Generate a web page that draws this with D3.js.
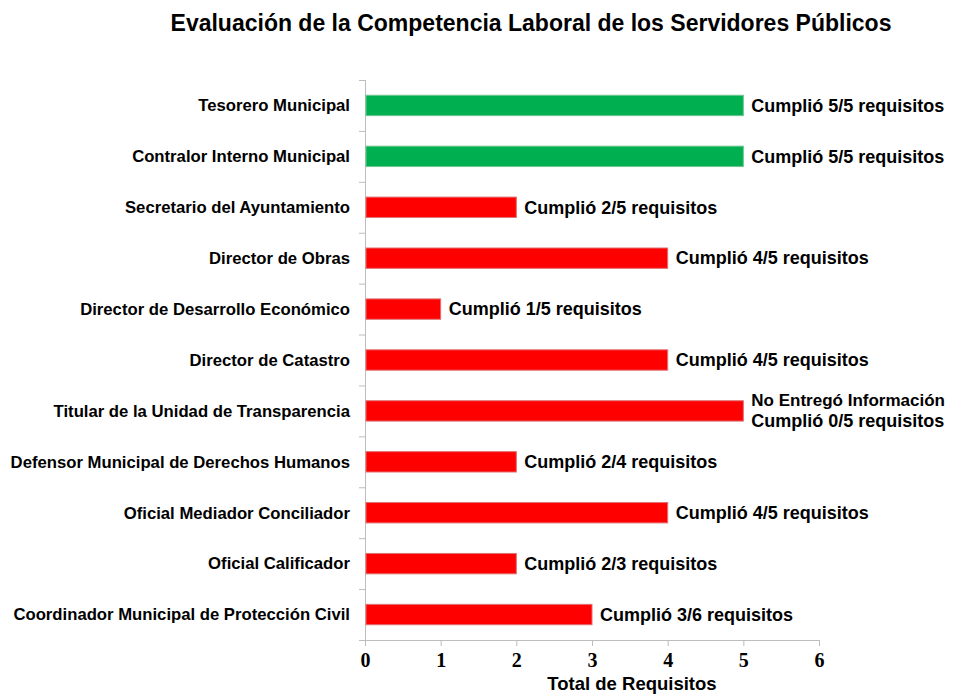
<!DOCTYPE html>
<html>
<head>
<meta charset="utf-8">
<script src="https://cdn.jsdelivr.net/npm/d3@7"></script>
<style>
  body { margin: 0; background: #fff; }
  text { font-family: "Liberation Sans", Arial, sans-serif; font-weight: bold; fill: #000; }
  .xaxis text { font-family: "Liberation Serif", "Times New Roman", serif; font-size: 20px; }
</style>
</head>
<body>
<div id="chart"></div>
<script>
// puestos evaluados, de arriba hacia abajo
var puestos = [
  "Tesorero Municipal",
  "Contralor Interno Municipal",
  "Secretario del Ayuntamiento",
  "Director de Obras",
  "Director de Desarrollo Económico",
  "Director de Catastro",
  "Titular de la Unidad de Transparencia",
  "Defensor Municipal de Derechos Humanos",
  "Oficial Mediador Conciliador",
  "Oficial Calificador ",
  "Coordinador Municipal de Protección Civil"
];
var requisitos = [5, 5, 2, 4, 1, 4, 5, 2, 4, 2, 3];
var cumplio = [true, true, false, false, false, false, false, false, false, false, false];
var etiquetas = [
  ["Cumplió 5/5 requisitos"],
  ["Cumplió 5/5 requisitos"],
  ["Cumplió 2/5 requisitos"],
  ["Cumplió 4/5 requisitos"],
  ["Cumplió 1/5 requisitos"],
  ["Cumplió 4/5 requisitos"],
  ["No Entregó Información", "Cumplió 0/5 requisitos"],
  ["Cumplió 2/4 requisitos"],
  ["Cumplió 4/5 requisitos"],
  ["Cumplió 2/3 requisitos"],
  ["Cumplió 3/6 requisitos"]
];
var xTicks = [0, 1, 2, 3, 4, 5, 6];

var w = 959, h = 696;
var margin = {top: 80, right: 140, bottom: 56, left: 365};

var svg = d3.select("#chart").append("svg")
  .attr("width", w)
  .attr("height", h);

var x = d3.scaleLinear()
  .domain([0, 6])
  .range([margin.left, w - margin.right]);

var y = d3.scaleBand()
  .domain(d3.range(puestos.length))
  .range([margin.top, h - margin.bottom])
  .paddingInner(0.6)
  .paddingOuter(0.3);

// title
svg.append("text")
  .attr("x", 531)
  .attr("y", 31)
  .attr("text-anchor", "middle")
  .style("font-size", "23px")
  .text("Evaluación de la Competencia Laboral de los Servidores Públicos");

// y axis line + tick marks between categories
var bandStep = (h - margin.bottom - margin.top) / puestos.length;
svg.append("line")
  .attr("x1", x(0) + 0.5).attr("x2", x(0) + 0.5)
  .attr("y1", margin.top).attr("y2", h - margin.bottom)
  .attr("stroke", "#bdbdbd");
svg.selectAll("line.ytick")
  .data(d3.range(puestos.length + 1))
  .enter().append("line")
  .attr("class", "ytick")
  .attr("x1", x(0) - 6).attr("x2", x(0))
  .attr("y1", function (i) { return margin.top + i * bandStep + 0.5; })
  .attr("y2", function (i) { return margin.top + i * bandStep + 0.5; })
  .attr("stroke", "#bdbdbd");

// x axis
var xAxis = svg.append("g")
  .attr("class", "xaxis")
  .attr("transform", "translate(0," + (h - margin.bottom) + ")")
  .call(d3.axisBottom(x).tickValues(xTicks).tickFormat(d3.format("d")).tickSize(6).tickPadding(7));
xAxis.selectAll("line").attr("stroke", "#bdbdbd");
xAxis.select(".domain").attr("stroke", "#bdbdbd");

svg.append("text")
  .attr("x", 632)
  .attr("y", h - 6)
  .attr("text-anchor", "middle")
  .style("font-size", "18.5px")
  .text("Total de Requisitos");

// category labels
svg.selectAll("text.cat")
  .data(puestos)
  .enter().append("text")
  .attr("class", "cat")
  .attr("x", x(0) - 15)
  .attr("y", function (d, i) { return y(i) + y.bandwidth() / 2; })
  .attr("dy", "0.35em")
  .attr("text-anchor", "end")
  .style("font-size", "16.7px")
  .text(function (d) { return d; });

// bars
svg.selectAll("rect.bar")
  .data(requisitos)
  .enter().append("rect")
  .attr("class", "bar")
  .attr("x", x(0) + 1)
  .attr("y", function (d, i) { return y(i); })
  .attr("width", function (d) { return x(d) - x(0) - 1; })
  .attr("height", y.bandwidth())
  .attr("fill", function (d, i) { return cumplio[i] ? "#00b050" : "#ff0000"; })
  .attr("stroke", function (d, i) { return cumplio[i] ? "#6cc58f" : "#e07070"; })
  .attr("stroke-width", 1);

// value labels
var lbl = svg.selectAll("text.val")
  .data(etiquetas)
  .enter().append("text")
  .attr("class", "val")
  .attr("x", function (d, i) { return x(requisitos[i]) + 8; })
  .attr("y", function (d, i) {
    var cy = y(i) + y.bandwidth() / 2;
    return cy - (d.length - 1) * 11;
  })
  .style("font-size", "18px");

lbl.selectAll("tspan")
  .data(function (d) { return d; })
  .enter().append("tspan")
  .attr("x", function () { return d3.select(this.parentNode).attr("x"); })
  .attr("dy", function (d, j) { return j === 0 ? "0.35em" : "21px"; })
  .style("font-size", function (d, j, nodes) { return nodes.length > 1 && j === 0 ? "17px" : null; })
  .text(function (d) { return d; });
</script>
</body>
</html>
